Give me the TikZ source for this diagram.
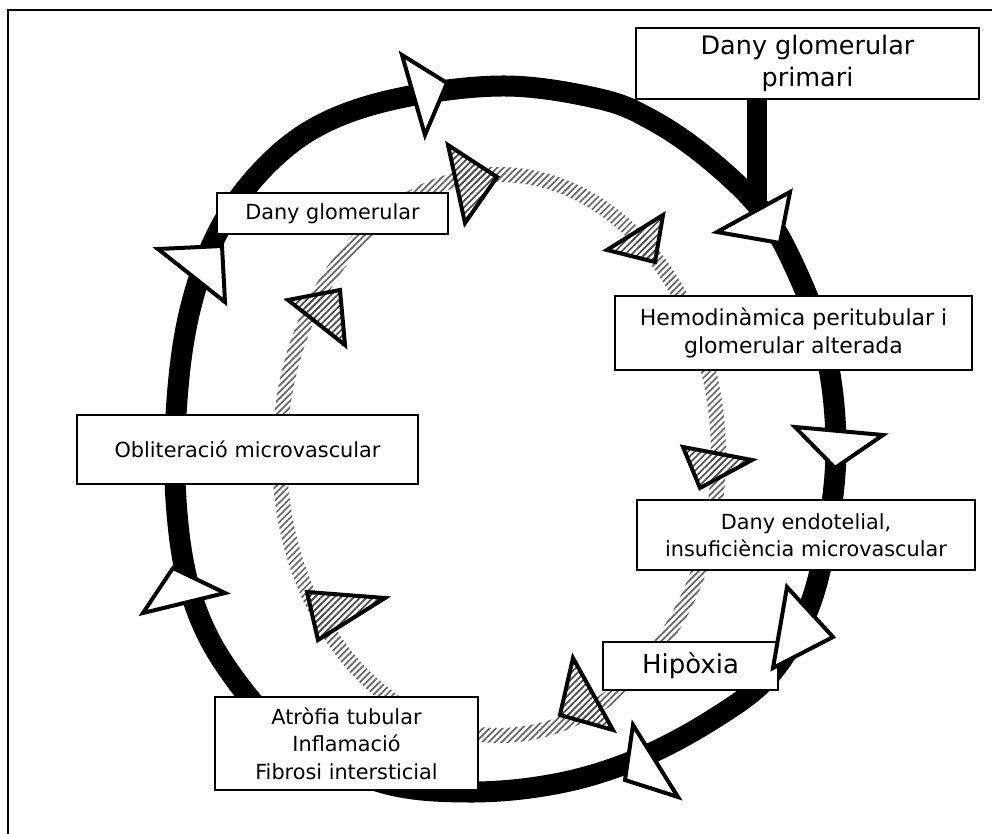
\documentclass[tikz,border=0pt]{standalone}
\usepackage{fontspec}
\setmainfont{DejaVu Sans}
\usetikzlibrary{patterns.meta}

\tikzset{
  label box/.style={draw=black, fill=white, line width=1.1pt, align=center,
    inner sep=0pt, font=\fontsize{20.8}{27.5}\selectfont},
  open head/.style={draw=black, fill=white, line width=4pt, line join=miter},
  hatch head/.style={draw=black, line width=4pt, line join=miter,
    pattern={Lines[angle=45,distance=4.6pt,line width=1.7pt]}, pattern color=black!70},
  hatch ring/.style={pattern={Lines[angle=45,distance=4.6pt,line width=1.7pt]},
    pattern color=black!60, even odd rule},
  main ring/.style={draw=black, line width=21pt},
}

\begin{document}
\begin{tikzpicture}[x=1pt,y=-1pt]
\useasboundingbox (0,0) rectangle (992,834);

% frame
\draw[line width=2.2pt] (8,834) -- (8,10) -- (992,10);

% inner hatched cycle
\fill[hatch ring] (499,455) ellipse [x radius=227, y radius=288]
                  (499,455) ellipse [x radius=212, y radius=273];

% outer black cycle
\draw[main ring] plot[smooth cycle, tension=0.6] coordinates {
  (505,86) (600,99) (652,120) (705,156) (757,205) (790,257) (824,345)
  (836,440) (828,530) (808,610) (770,675) (715,718) (640,758) (560,783)
  (470,792) (380,782) (290,738) (225,665) (190,590) (176,500) (177,400)
  (190,310) (218,232) (262,170) (320,125) (400,98)};

% boxes
\node[label box, minimum width=343pt, minimum height=71pt,
      font=\fontsize{25.5}{32}\selectfont] (prim) at (807.5,63.5) {Dany glomerular\\primari};
\node[label box, minimum width=231pt, minimum height=41pt] (dg) at (332.5,213.5) {Dany glomerular};
\node[label box, minimum width=357pt, minimum height=74pt,
      font=\fontsize{22}{28}\selectfont] (hemo) at (793.5,333) {Hemodinàmica peritubular i\\glomerular alterada};
\node[label box, minimum width=341pt, minimum height=69pt] (oblit) at (247.5,449.5) {Obliteració microvascular};
\node[label box, minimum width=338pt, minimum height=70pt] (endo) at (806,535) {Dany endotelial,\\insuficiència microvascular};
\node[label box, minimum width=175pt, minimum height=48pt,
      font=\fontsize{26}{30}\selectfont] (hip) at (690.5,666) {Hipòxia};
\node[label box, minimum width=263pt, minimum height=93pt] (atro) at (346.5,743.5) {Atròfia tubular\\Inflamació\\Fibrosi intersticial};

% entry from the primary lesion into the cycle
\coordinate (join) at (757,210);
\draw[line width=20pt] (prim.south -| join) -- (join);

% arrowheads on the outer cycle
\filldraw[open head] (402,55) -- (447,83) -- (425,135) -- cycle;
\filldraw[open head] (790,192) -- (717,232) -- (780,243) -- cycle;
\filldraw[open head] (795,427) -- (883,435) -- (835,468) -- cycle;
\filldraw[open head] (787,587) -- (833,637) -- (773,668) -- cycle;
\filldraw[open head] (633,725) -- (678,797) -- (625,780) -- cycle;
\filldraw[open head] (173,568) -- (225,593) -- (143,613) -- cycle;
\filldraw[open head] (158,249) -- (222,246) -- (225,302) -- cycle;

% arrowheads on the inner cycle
\filldraw[hatch head] (448,145) -- (497,177) -- (465,223) -- cycle;
\filldraw[hatch head] (663,215) -- (607,250) -- (655,262) -- cycle;
\filldraw[hatch head] (683,447) -- (752,460) -- (700,488) -- cycle;
\filldraw[hatch head] (573,658) -- (613,730) -- (560,715) -- cycle;
\filldraw[hatch head] (307,592) -- (385,598) -- (318,640) -- cycle;
\filldraw[hatch head] (288,300) -- (340,290) -- (345,345) -- cycle;
\end{tikzpicture}
\end{document}
